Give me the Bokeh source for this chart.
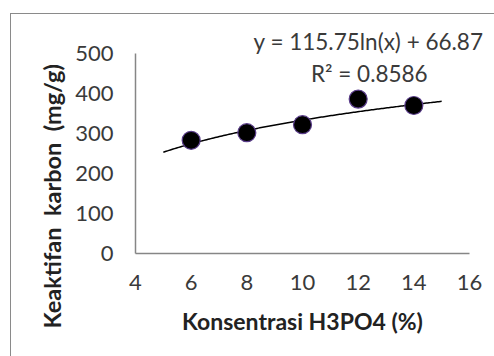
import numpy as np
from bokeh.plotting import figure
from bokeh.models import Label, Range1d, Title
from bokeh.embed import file_html
from bokeh.resources import INLINE

# Data
konsentrasi = [6, 8, 10, 12, 14]
keaktifan = [283, 302, 322, 386, 370]

# Logarithmic trendline (as printed on the chart)
trend_a = 115.75
trend_b = 66.87
trend_x_start = 5
trend_x_end = 15
r_squared = 0.8586

x_ticks = [4, 6, 8, 10, 12, 14, 16]
y_ticks = [0, 100, 200, 300, 400, 500]

FONT = "Lato"
AXIS_COLOR = "#868686"
TEXT_COLOR = "#3a3a3a"

p = figure(width=484, height=343, output_backend="svg", toolbar_location=None,
           x_range=Range1d(4, 16), y_range=Range1d(0, 500),
           min_border_left=124, min_border_right=26, min_border_top=39, min_border_bottom=104)
p.margin = (13, 0, 0, 10)
p.styles = {"border-top": "1.5px solid #8a8a8a", "border-left": "1.5px solid #8a8a8a"}
p.outline_line_color = None
p.grid.grid_line_color = None
p.background_fill_color = "white"
p.border_fill_color = "white"

for ax in (p.xaxis, p.yaxis):
    ax.axis_line_color = AXIS_COLOR
    ax.axis_line_width = 1.5
    ax.major_tick_line_color = None
    ax.minor_tick_line_color = None
    ax.major_label_text_font = FONT
    ax.major_label_text_font_size = "22px"
    ax.major_label_text_color = TEXT_COLOR
    ax.axis_label_text_font = FONT
    ax.axis_label_text_font_style = "bold"
    ax.axis_label_text_font_size = "23px"
    ax.axis_label_text_color = "#222222"

p.xaxis.ticker = x_ticks
p.yaxis.ticker = y_ticks
p.xaxis.major_label_standoff = 15
p.yaxis.major_label_standoff = 16
p.xaxis.axis_label = "Konsentrasi H3PO4 (%)"
p.xaxis.axis_label_standoff = 14

# y-axis title (placed as a side title so it can sit lower, as in the original)
ytitle = Title(text="Keaktifan \u00a0karbon \u00a0(mg/g)", text_font=FONT, text_font_size="23.5px",
               text_font_style="bold", text_color="#222222", align="left", offset=-75, standoff=14)
p.add_layout(ytitle, "left")

# trendline
tx = np.linspace(trend_x_start, trend_x_end, 200)
ty = trend_a * np.log(tx) + trend_b
p.line(tx, ty, line_color="black", line_width=1.5)

# markers
p.scatter(konsentrasi, keaktifan, size=18, fill_color="black", line_color="#5a3d8a", line_width=1.2)

eq = Title(text=f"y = {trend_a}ln(x) + {trend_b}", text_font=FONT, text_font_size="22.5px",
           text_font_style="normal", text_color=TEXT_COLOR, align="right", offset=-14, standoff=-3)
p.add_layout(eq, "above")
r2 = Label(x=12.4, y=450, text=f"R\u00b2 = {r_squared}", text_font=FONT,
           text_font_size="22.5px", text_align="center", text_baseline="middle", text_color=TEXT_COLOR)
p.add_layout(r2)

open("out.html", "w").write(file_html(p, INLINE))
